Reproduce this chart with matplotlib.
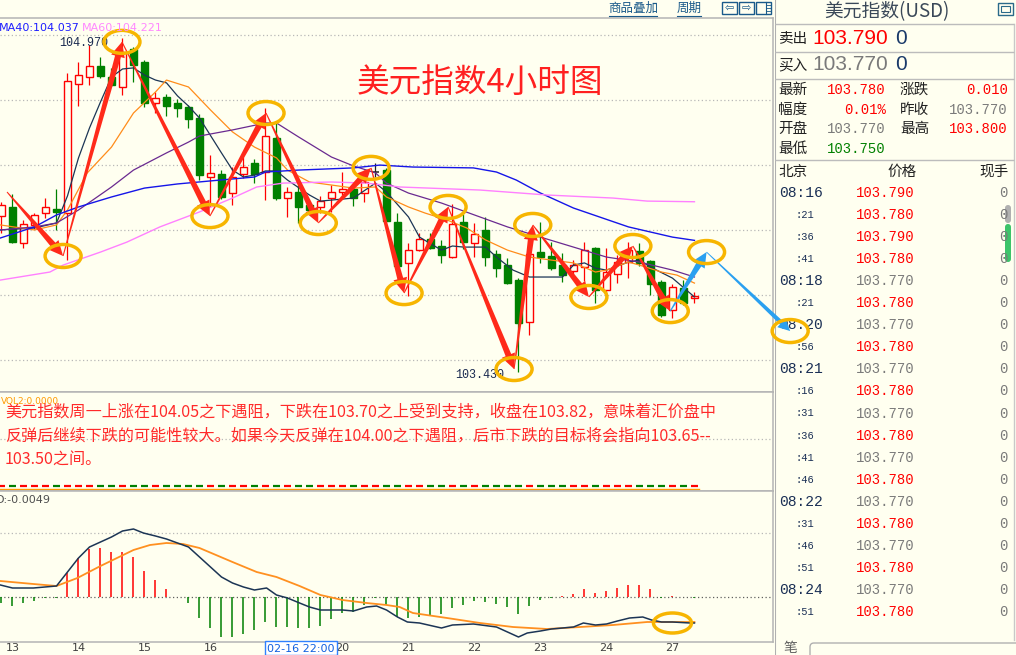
import numpy as np
import matplotlib
matplotlib.use('Agg')
import matplotlib.pyplot as plt
from matplotlib.patches import Rectangle, Ellipse, Polygon, FancyBboxPatch
from matplotlib.transforms import IdentityTransform

W, H = 1016, 655
BG = '#fffff0'
RED = '#ff0000'
GREEN = '#008000'
GRAY = '#7a7a7a'
NAVY = '#1a2f55'
CJK = ['Noto Sans CJK SC', 'DejaVu Sans']
MONO = ['Liberation Mono', 'DejaVu Sans Mono']
plt.rcParams['font.family'] = CJK

# ---------------- data (4h candles, 13 Feb - 27 Feb) ----------------
opens = [104.149, 104.191, 104.025, 104.108, 104.163, 104.182, 104.163, 104.758, 104.790, 104.841,
         104.790, 104.744, 104.919, 104.859, 104.670, 104.698, 104.670, 104.652, 104.601, 104.329,
         104.343, 104.255, 104.343, 104.394, 104.352, 104.509, 104.232, 104.260, 104.200, 104.191,
         104.232, 104.260, 104.274, 104.255, 104.352, 104.361, 104.122, 103.933, 103.992, 104.043,
         104.011, 103.960, 104.122, 104.025, 104.085, 103.974, 103.923, 103.854, 103.660, 103.983,
         103.965, 103.923, 103.896, 103.914, 104.002, 103.808, 103.882, 103.937, 103.988, 103.942,
         103.845, 103.716, 103.817, 103.770]
highs = [104.214, 104.251, 104.131, 104.163, 104.232, 104.274, 104.809, 104.859, 104.938, 104.882,
         104.832, 104.970, 104.929, 104.869, 104.721, 104.712, 104.689, 104.661, 104.620, 104.431,
         104.361, 104.375, 104.421, 104.412, 104.647, 104.578, 104.283, 104.292, 104.209, 104.241,
         104.292, 104.352, 104.297, 104.361, 104.394, 104.371, 104.163, 104.025, 104.071, 104.071,
         104.039, 104.205, 104.158, 104.117, 104.145, 103.992, 103.956, 103.863, 103.992, 104.122,
         104.029, 103.979, 103.946, 104.029, 104.006, 104.002, 103.969, 104.029, 104.025, 103.946,
         103.854, 103.836, 103.854, 103.800]
lows = [104.071, 104.025, 104.002, 104.089, 104.140, 104.085, 103.946, 104.656, 104.753, 104.786,
        104.750, 104.707, 104.767, 104.652, 104.624, 104.610, 104.606, 104.555, 104.315, 104.191,
        104.228, 104.200, 104.324, 104.301, 104.223, 104.223, 104.145, 104.117, 104.168, 104.163,
        104.168, 104.246, 104.195, 104.214, 104.329, 104.122, 103.915, 103.780, 103.988, 103.995,
        103.933, 103.955, 103.995, 103.960, 103.919, 103.868, 103.836, 103.430, 103.601, 103.933,
        103.900, 103.845, 103.863, 103.850, 103.748, 103.780, 103.840, 103.863, 103.919, 103.785,
        103.684, 103.679, 103.739, 103.750]
closes = [104.200, 104.029, 104.112, 104.154, 104.191, 104.168, 104.772, 104.799, 104.841, 104.795,
          104.753, 104.905, 104.846, 104.670, 104.693, 104.656, 104.647, 104.597, 104.338, 104.348,
          104.237, 104.329, 104.375, 104.343, 104.518, 104.232, 104.260, 104.191, 104.177, 104.218,
          104.260, 104.274, 104.232, 104.306, 104.352, 104.126, 103.919, 103.992, 104.043, 104.002,
          103.969, 104.112, 104.029, 104.066, 103.960, 103.909, 103.840, 103.656, 103.974, 103.960,
          103.909, 103.877, 103.923, 103.992, 103.808, 103.891, 103.937, 103.992, 103.933, 103.836,
          103.693, 103.822, 103.748, 103.780]

ma5_x = [-0.1, 3, 5, 6, 7, 8, 9, 10, 11, 12, 13, 14, 15, 16, 17, 18, 20, 21, 22, 23, 24, 25, 26, 28,
         29, 32, 34, 35, 37, 38, 40, 41, 42, 44, 45, 46.5, 48, 51, 52, 53, 54, 55, 57, 58, 59, 61, 63]
ma5_y = [104.085, 104.094, 104.117, 104.242, 104.417, 104.555, 104.675, 104.790, 104.827, 104.832,
         104.799, 104.776, 104.763, 104.703, 104.656, 104.601, 104.440, 104.361, 104.329, 104.338,
         104.357, 104.357, 104.315, 104.246, 104.218, 104.232, 104.301, 104.260, 104.145, 104.052,
         103.992, 104.011, 104.006, 104.006, 103.960, 103.900, 103.868, 103.868, 103.923, 103.933,
         103.909, 103.900, 103.937, 103.946, 103.914, 103.863, 103.776]
ma10_x = [-0.1, 3, 5, 6, 7.8, 10, 12, 14, 15, 17, 19, 21, 23, 25, 26, 28, 30, 32, 34, 35, 37, 38.5,
          40.5, 42.3, 44, 46, 48, 50, 52, 54, 55, 57, 58, 60, 61.4, 63]
ma10_y = [104.108, 104.085, 104.108, 104.177, 104.348, 104.467, 104.624, 104.721, 104.776, 104.744,
          104.638, 104.537, 104.467, 104.417, 104.361, 104.306, 104.292, 104.278, 104.283, 104.237,
          104.191, 104.163, 104.131, 104.094, 104.039, 103.992, 103.960, 103.946, 103.933, 103.891,
          103.900, 103.937, 103.923, 103.891, 103.877, 103.840]
ma20_x = [-0.1, 3, 5, 7, 10, 12, 15, 17, 18, 21, 24, 25, 27, 30, 32, 34, 35, 37, 40, 43, 46, 49,
          52, 55, 58, 61, 63]
ma20_y = [104.085, 104.099, 104.117, 104.177, 104.283, 104.361, 104.440, 104.490, 104.518, 104.546,
          104.578, 104.578, 104.514, 104.421, 104.380, 104.348, 104.301, 104.255, 104.209, 104.154,
          104.099, 104.052, 104.006, 103.960, 103.937, 103.900, 103.868]
ma40_x = [-0.1, 3, 5, 7, 10, 13, 16, 19, 23, 24, 27, 32, 34.4, 37.4, 42.9, 45, 46.8, 49, 52, 57, 61, 63]
ma40_y = [104.048, 104.099, 104.154, 104.191, 104.237, 104.278, 104.297, 104.311, 104.329, 104.352,
          104.361, 104.371, 104.384, 104.375, 104.371, 104.352, 104.315, 104.255, 104.186, 104.099,
          104.052, 104.037]
ma60_x = [-0.1, 4.4, 5.6, 9, 11.4, 14.4, 18, 21, 23.2, 25.6, 30, 33.2, 36.2, 43.5, 49.6, 55.6, 58.7, 63]
ma60_y = [103.854, 103.891, 103.923, 103.983, 104.029, 104.099, 104.168, 104.232, 104.283, 104.301,
          104.306, 104.301, 104.283, 104.269, 104.246, 104.232, 104.218, 104.215]

dif_x = [-0.1, 1, 2.9, 5, 6, 7, 8, 9, 10, 11, 12, 12.9, 14, 15, 17, 18, 19, 20, 21, 22, 23, 24.1, 25,
         26, 27.1, 28, 29, 31, 32, 33.2, 34.1, 35, 36, 36.9, 38, 40, 41, 42.9, 45, 46, 47, 47.8, 49,
         50, 52, 52.9, 54, 55, 56, 57.1, 58.3, 59.1, 60, 61, 62.6, 63]
dif_y = [0.024, 0.018, 0.018, 0.022, 0.050, 0.078, 0.100, 0.110, 0.120, 0.132, 0.136, 0.128, 0.122,
         0.116, 0.100, 0.080, 0.060, 0.040, 0.028, 0.020, 0.014, 0.018, 0.004, -0.002, -0.012, -0.020,
         -0.026, -0.026, -0.028, -0.020, -0.018, -0.026, -0.040, -0.050, -0.052, -0.062, -0.056,
         -0.054, -0.060, -0.070, -0.080, -0.072, -0.068, -0.064, -0.060, -0.052, -0.056, -0.054,
         -0.048, -0.042, -0.040, -0.046, -0.050, -0.050, -0.052, -0.052]
dea_x = [-0.1, 2.9, 5, 6.9, 9, 12, 13.5, 15, 16.5, 18, 21, 23.2, 25, 27.1, 29, 31, 33.2, 35, 36.2,
         37.4, 40.5, 43.5, 46.5, 49.6, 52.6, 55.6, 58.7, 63]
dea_y = [0.032, 0.026, 0.022, 0.038, 0.062, 0.094, 0.104, 0.108, 0.106, 0.098, 0.070, 0.050, 0.040,
         0.022, 0.004, -0.006, -0.012, -0.016, -0.020, -0.032, -0.042, -0.052, -0.060, -0.064,
         -0.060, -0.056, -0.050, -0.050]
macd_hist = [-0.012, -0.018, -0.012, -0.008, -0.002, -0.001, 0.048, 0.078, 0.096, 0.098,
             0.090, 0.090, 0.080, 0.052, 0.034, 0.016, 0.000, -0.012, -0.042, -0.062,
             -0.080, -0.080, -0.074, -0.066, -0.050, -0.060, -0.060, -0.062, -0.062, -0.058,
             -0.044, -0.032, -0.030, -0.016, -0.002, -0.016, -0.040, -0.042, -0.040, -0.038,
             -0.034, -0.022, -0.016, -0.008, -0.010, -0.014, -0.020, -0.034, -0.018, -0.006,
             -0.001, 0.002, 0.006, 0.016, 0.008, 0.012, 0.018, 0.024, 0.024, 0.016,
             -0.001, 0.002, 0.001, -0.002]

# swing points marked on the chart (candle index, price)
zz_x = [0.5, 5.6, 10.95, 18.95, 24.05, 28.8, 33.6, 36.6, 40.6, 46.6, 48.3, 53.4, 57.4, 60.8, 64.1, 71.7]
zz_y = [104.260, 103.965, 104.952, 104.149, 104.624, 104.117, 104.371, 103.794, 104.191, 103.444,
        104.108, 103.776, 104.011, 103.711, 103.983, 103.619]

day_labels = ['13', '14', '15', '16', '19', '20', '21', '22', '23', '24', '27']
day_first = [1, 7, 13, 19, 25, 31, 37, 43, 49, 55, 61]
grid_levels = [103.485, 103.785, 104.085, 104.385, 104.685, 104.985]

comment = ['美元指数周一上涨在104.05之下遇阻，下跌在103.70之上受到支持，收盘在103.82，意味着汇价盘中',
           '反弹后继续下跌的可能性较大。如果今天反弹在104.00之下遇阻，后市下跌的目标将会指向103.65--',
           '103.50之间。']

quote_l = [('最新', '103.780', RED), ('幅度', '0.01%', RED), ('开盘', '103.770', GRAY), ('最低', '103.750', GREEN)]
quote_r = [('涨跌', '0.010', RED), ('昨收', '103.770', GRAY), ('最高', '103.800', RED)]
prev_close = 103.770
tick_times = ['08:16', ':21', ':36', ':41', '08:18', ':21', '08:20', ':56', '08:21', ':16',
              ':31', ':36', ':41', ':46', '08:22', ':31', ':46', ':51', '08:24', ':51']
tick_prices = [103.790, 103.780, 103.790, 103.780, 103.770, 103.780, 103.770, 103.780, 103.770, 103.780,
               103.770, 103.780, 103.770, 103.780, 103.770, 103.780, 103.770, 103.780, 103.770, 103.780]
tick_vols = [0, 0, 0, 0, 0, 0, 0, 0, 0, 0, 0, 0, 0, 0, 0, 0, 0, 0, 0, 0]

# ---------------- layout ----------------
def box(l, t, r, b):
    return [l / W, 1 - b / H, (r - l) / W, (b - t) / H]

fig = plt.figure(figsize=(W / 100, H / 100), dpi=100, facecolor=BG)
main = fig.add_axes(box(0, 18, 773, 392))
vol = fig.add_axes(box(0, 392, 773, 491))
macd = fig.add_axes(box(0, 491, 773, 642))
side = fig.add_axes(box(775, 0, 1016, 655))
ov = fig.add_axes([0, 0, 1, 1], zorder=30)
ov.set_xlim(0, W); ov.set_ylim(H, 0); ov.axis('off')

XLIM = (-0.136, 70.14)
for ax in (main, vol, macd):
    ax.set_facecolor(BG)
    ax.set_xlim(*XLIM)
    ax.set_xticks([]); ax.set_yticks([])
    for s in ax.spines.values():
        s.set_color('#b4b4b4'); s.set_linewidth(1.1)
    ax.spines['left'].set_visible(False)
main.set_ylim(103.338, 105.062)
vol.set_ylim(-0.05, 1.0)
macd.set_ylim(-0.090, 0.212)

dot = (0, (1, 2))
main.hlines(grid_levels, *XLIM, colors='#b8b8b8', lw=0.9, linestyles=dot, zorder=0.5)
vol.hlines([0.5], *XLIM, colors='#b8b8b8', lw=0.9, linestyles=dot)
macd.hlines([0.128], *XLIM, colors='#b8b8b8', lw=0.9, linestyles=dot)
macd.hlines([0], *XLIM, colors='#606060', lw=0.9, linestyles=dot)

# candles
for i, (o, h, l, c) in enumerate(zip(opens, highs, lows, closes)):
    up = c >= o
    col = '#222222' if c == o else (RED if up else GREEN)
    lo_b, hi_b = min(o, c), max(o, c)
    main.vlines(i, l, lo_b, color=col, lw=0.9, zorder=3)
    main.vlines(i, hi_b, h, color=col, lw=0.9, zorder=3)
    if hi_b - lo_b < 0.004:
        main.hlines(c, i - 0.36, i + 0.36, color=col, lw=1.1, zorder=3)
    else:
        main.add_patch(Rectangle((i - 0.36, lo_b), 0.72, hi_b - lo_b, fc=BG if up else col,
                                 ec=col, lw=1.0, zorder=3))
    vol.hlines(0, i - 0.36, i + 0.36, color=RED if up else GREEN, lw=1.6)
vol.plot([-0.5, 63.4], [-0.03, -0.03], color='#ff9900', lw=1.0)

main.plot(ma5_x, ma5_y, color='#1c3555', lw=0.9, zorder=4)
main.plot(ma10_x, ma10_y, color='#ff8c1a', lw=0.9, zorder=4)
main.plot(ma20_x, ma20_y, color='#6a2a90', lw=0.9, zorder=4)
main.plot(ma40_x, ma40_y, color='#1515e8', lw=1.0, zorder=4)
main.plot(ma60_x, ma60_y, color='#ff80ff', lw=1.0, zorder=4)

i_hi = int(np.argmax(highs)); i_lo = int(np.argmin(lows))
main.text(i_hi - 1.3, highs[i_hi] - 0.022, f'{highs[i_hi]:.3f}', ha='right', va='center',
          fontsize=8.5, color='#1a2a50', family=MONO, zorder=5)
main.text(i_lo - 1.3, lows[i_lo] - 0.012, f'{lows[i_lo]:.3f}', ha='right', va='center',
          fontsize=8.5, color='#1a2a50', family=MONO, zorder=5)

# MACD
for i, v in enumerate(macd_hist):
    if v != 0:
        macd.vlines(i, 0, v, color=RED if v > 0 else GREEN, lw=1.1)
macd.plot(dea_x, dea_y, color='#ff9020', lw=1.3)
macd.plot(dif_x, dif_y, color='#1c3555', lw=1.1)

# ---------------- annotations (drawn in pixels) ----------------
def taper(ax, p0, p1, color, w0=0.5, w1=3.0, hw=7.0, hl=15.0):
    a = np.array(ax.transData.transform(p0)); b = np.array(ax.transData.transform(p1))
    d = b - a; u = d / np.hypot(*d); n = np.array([-u[1], u[0]])
    neck = b - u * hl
    pts = [a + n * w0, neck + n * w1, neck + n * hw, b, neck - n * hw, neck - n * w1, a - n * w0]
    fig.add_artist(Polygon(pts, closed=True, transform=IdentityTransform(), fc=color, ec='none', zorder=20))

def ring(ax, p, w=36, h=23):
    c = ax.transData.transform(p)
    fig.add_artist(Ellipse(c, w, h, transform=IdentityTransform(), fill=False, ec='#f7b500', lw=2.5, zorder=21))

pts = list(zip(zz_x, zz_y))
for k in range(len(pts) - 1):
    if k < 13:
        taper(main, pts[k], pts[k + 1], '#ff2a1a')
    elif k == 13:
        taper(main, pts[k], pts[k + 1], '#2aa0f0')
    else:
        taper(main, pts[k], pts[k + 1], '#2aa0f0', w0=0.4, w1=2.2, hw=6, hl=12)
for p in pts[1:]:
    ring(main, p)
ring(macd, (61, -0.052), 38, 20)

# ---------------- header / labels ----------------
ov.text(480, 83, '美元指数4小时图', ha='center', va='center', fontsize=23.5, color='#ff2020')
ov.text(-1, 28, 'MA40:104.037', ha='left', va='center', fontsize=8, color='#1e1eff', family='DejaVu Sans')
ov.text(82, 28, 'MA60:104.221', ha='left', va='center', fontsize=8, color='#ff88ff', family='DejaVu Sans')
for txt, x0, x1 in [('商品叠加', 609, 657), ('周期', 677, 701)]:
    ov.text((x0 + x1) / 2, 8, txt, ha='center', va='center', fontsize=9, color='#1a5a8a')
    ov.plot([x0, x1], [15.5, 15.5], color='#1a5a8a', lw=0.8)
for k, sym in enumerate(['⇦', '⇨', '']):
    x0 = 722 + 17 * k
    ov.add_patch(Rectangle((x0, 2), 15, 12, fill=False, ec='#1a5a8a', lw=1))
    if sym:
        ov.text(x0 + 7.5, 8, sym, ha='center', va='center', fontsize=8, color='#1a5a8a', family='DejaVu Sans')
    else:
        ov.plot([x0 + 10, x0 + 10], [2, 14], color='#1a5a8a', lw=0.8)
        for yy in (5, 8, 11):
            ov.plot([x0 + 10, x0 + 15], [yy, yy], color='#1a5a8a', lw=0.6)

ov.text(1, 401, 'VOL2:0.0000', ha='left', va='center', fontsize=6.5, color='#ff9900', family='DejaVu Sans')
for k, line in enumerate(comment):
    ov.text(5, 412 + 23.5 * k, line, ha='left', va='center', fontsize=11.6, color='#ff2a2a')
ov.text(-4, 500, 'D:-0.0049', ha='left', va='center', fontsize=8, color='#505050', family='DejaVu Sans')

for lab, i in zip(day_labels, day_first):
    x = main.transData.transform((i, 104))[0]
    ov.text(x, 648, lab, ha='center', va='center', fontsize=8, color='#404040', family='DejaVu Sans', zorder=3)
ov.add_patch(Rectangle((265, 641), 72, 14, fc='white', ec='#3080ff', lw=1, zorder=6))
ov.text(301, 648.5, '02-16 22:00', ha='center', va='center', fontsize=8, color='#1060e0',
        family='DejaVu Sans', zorder=7)

# ---------------- right quote panel ----------------
side.set_xlim(775, 1016); side.set_ylim(655, 0); side.axis('off')
side.plot([775, 775], [0, 655], color='#b0b0b0', lw=1.5)
side.plot([1014, 1014], [24, 640], color='#c8c8c8', lw=1)
side.hlines([24, 52, 79, 160], 775, 1014, colors='#bcbcbc', lw=1)
side.text(887, 12, '美元指数(USD)', ha='center', va='center', fontsize=13.5, color='#3a4858')
side.add_patch(Rectangle((998, 3), 15, 12, fill=False, ec='#2a6a8a', lw=1))
side.add_patch(Rectangle((1001, 6), 9, 6, fill=False, ec='#2a6a8a', lw=0.8))
for y, lab, val, col in [(39, '卖出', '103.790', RED), (65, '买入', '103.770', GRAY)]:
    side.text(778, y, lab, ha='left', va='center', fontsize=10.5, color='#202020')
    side.text(812, y, val, ha='left', va='center', fontsize=15, color=col, family='Liberation Sans')
    side.text(895, y, '0', ha='left', va='center', fontsize=15, color='#1a3a6a', family='Liberation Sans')
for k, (lab, val, col) in enumerate(quote_l):
    y = 90 + 19.7 * k
    side.text(778, y, lab, ha='left', va='center', fontsize=10.5, color='#202020')
    side.text(886, y, val, ha='right', va='center', fontsize=10, color=col, family=MONO)
for k, (lab, val, col) in enumerate(quote_r):
    y = 90 + 19.7 * k
    side.text(900, y, lab, ha='left', va='center', fontsize=10.5, color='#202020')
    side.text(1008, y, val, ha='right', va='center', fontsize=10, color=col, family=MONO)
side.text(778, 172, '北京', ha='left', va='center', fontsize=10.5, color='#202020')
side.text(902, 172, '价格', ha='center', va='center', fontsize=10.5, color='#202020')
side.text(1009, 172, '现手', ha='right', va='center', fontsize=10.5, color='#202020')
for k, (t, p, v) in enumerate(zip(tick_times, tick_prices, tick_vols)):
    y = 193 + 22.05 * k
    if t.startswith(':'):
        side.text(796, y, t, ha='left', va='center', fontsize=7.5, color=NAVY, family=MONO)
    else:
        side.text(779, y, t, ha='left', va='center', fontsize=10.5, color=NAVY, family=MONO)
    side.text(915, y, f'{p:.3f}', ha='right', va='center', fontsize=10, color=RED if p > prev_close else GRAY, family=MONO)
    side.text(1008, y, str(v), ha='right', va='center', fontsize=10, color=GRAY, family=MONO)
side.add_patch(FancyBboxPatch((1005, 205), 6, 18, boxstyle='round,pad=0,rounding_size=3', fc='#b0b0b0', ec='none'))
side.add_patch(FancyBboxPatch((1005, 224), 6, 38, boxstyle='round,pad=0,rounding_size=3', fc='#3cc46a', ec='none'))
side.text(790, 648, '笔', ha='center', va='center', fontsize=10, color='#606060')
side.add_patch(FancyBboxPatch((810, 643), 230, 20, boxstyle='round,pad=0,rounding_size=4', fill=False, ec='#b0b0b0', lw=1))

fig.savefig('out.png', dpi=100, facecolor=BG)
